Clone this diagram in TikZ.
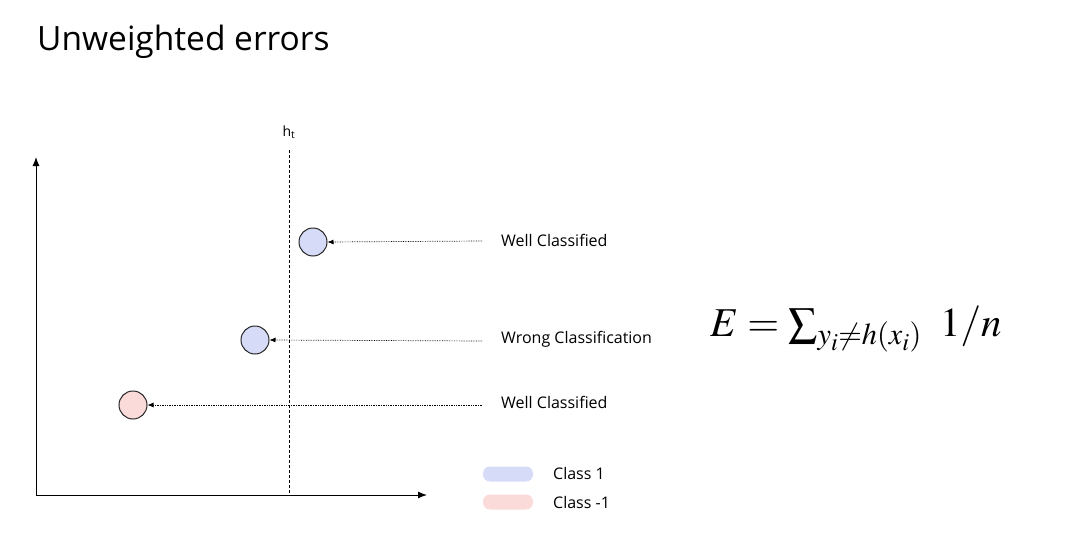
\documentclass[tikz,border=0pt]{standalone}
\usepackage{mathptmx}
\usepackage{fontspec}
\setmainfont{Open Sans}
\usetikzlibrary{arrows.meta}
\definecolor{blueish}{HTML}{D6DCF8}
\definecolor{reddish}{HTML}{FBDADA}
\tikzset{
  pt/.style={circle, draw=black!85, line width=1pt, minimum size=28pt, inner sep=0pt},
  lbl/.style={anchor=west, font=\fontsize{16}{18}\selectfont, inner sep=0pt},
  ptr/.style={densely dotted, line width=0.7pt, -{Latex[length=6pt,width=5pt]}},
  axis/.style={line width=1pt, -{Latex[length=9pt,width=7pt]}},
  pill/.style={rounded corners=7pt, minimum width=50pt, minimum height=15pt, inner sep=0pt}
}
\begin{document}
\begin{tikzpicture}[x=1pt,y=-1pt]
\useasboundingbox (0,0) rectangle (1080,549);
\node[anchor=base west, inner sep=0pt, font=\fontsize{33.5}{38}\selectfont] (title) at (37,50) {Unweighted errors};
% axes
\coordinate (o) at (36,495);
\coordinate (ytop) at (36,157);
\coordinate (xend) at (427,495);
\draw[axis] (o) -- (ytop);
\draw[axis] ([xshift=-0.5pt]o) -- (xend);
% threshold
\coordinate (htop) at (289,150);
\coordinate (hbot) at (289,495);
\draw[dashed, line width=1pt, dash pattern=on 3pt off 2pt] (htop) -- (hbot);
\node[font=\fontsize{14}{16}\selectfont, inner sep=0pt] (ht) at (289,132) {h\textsubscript{t}};
% points
\node[pt, fill=blueish] (p1) at (313,242) {};
\node[pt, fill=blueish] (p2) at (255,340) {};
\node[pt, fill=reddish] (p3) at (133,405) {};
% labels
\node[lbl] (l1) at (501,240) {Well Classified};
\node[lbl] (l2) at (501,339) {Wrong Classification};
\node[lbl] (l3) at (501,402) {Well Classified};
\coordinate (s1) at (482,241);
\coordinate (s2) at (482,341);
\coordinate (s3) at (482,405);
\draw[ptr] (s1) -- (p1.east);
\draw[ptr] (s2) -- (p2.east);
\draw[ptr] (s3) -- (p3.east);
% legend
\node[pill, fill=blueish] (c1) at (508,474) {};
\node[pill, fill=reddish] (c2) at (508,502) {};
\node[lbl] (t1) at (553,473) {Class 1};
\node[lbl] (t2) at (553,502) {Class -1};
% formula
\node[anchor=base west, inner sep=0pt, font=\fontsize{41}{50}\selectfont] (eq) at (710,336) {$E = \textstyle\sum_{y_i\neq h(x_i)}\;\, 1/n$};
\end{tikzpicture}
\end{document}
